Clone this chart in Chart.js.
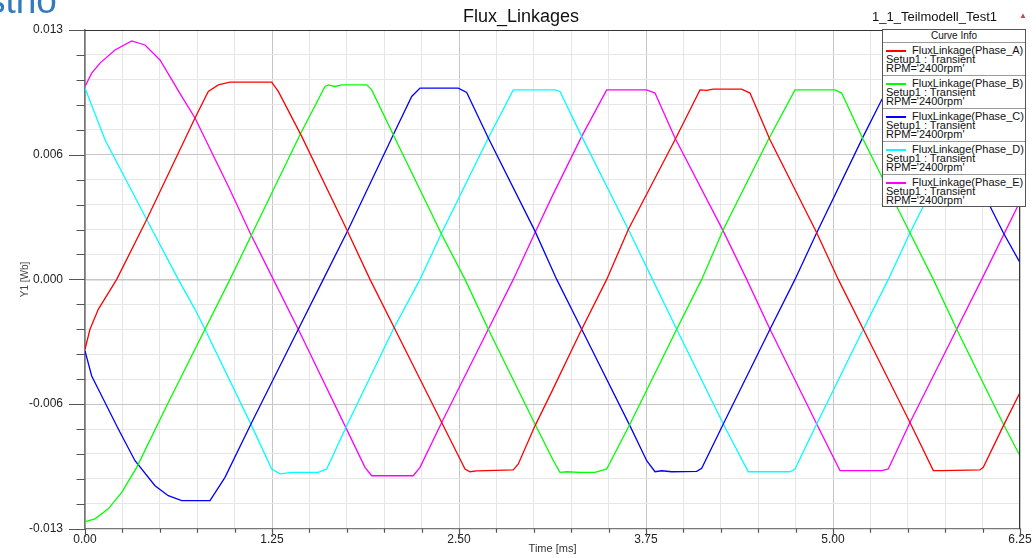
<!DOCTYPE html>
<html>
<head>
<meta charset="utf-8">
<script src="https://cdn.jsdelivr.net/npm/chart.js@4.4.1/dist/chart.umd.min.js"></script>
<style>
  html, body { margin: 0; padding: 0; background: #fff; }
  #wrap { position: relative; width: 1036px; height: 558px; overflow: hidden; font-family: "Liberation Sans", Arial, sans-serif; }
  #c { position: absolute; left: 0; top: 0; }
  .txt { position: absolute; white-space: nowrap; }
  #logo { left: -13px; top: -18px; font-size: 37px; line-height: 37px; color: #3478bd; }
  #title { left: 421px; width: 200px; text-align: center; top: 6px; font-size: 18px; line-height: 20px; color: #111; }
  #design { left: 872px; top: 9px; font-size: 13px; line-height: 15px; color: #111; }
  #icon { left: 1019px; top: 11px; font-size: 8px; line-height: 9px; color: #c0504d; }
  #legend { position: absolute; left: 882px; top: 29px; width: 142px; height: 176px; background: #fff; border: 1px solid #555; }
  #legend .hdr { height: 12px; border-bottom: 1px solid #9a9a9a; font-size: 10px; line-height: 12px; text-align: center; color: #111; }
  #legend .ent { position: relative; height: 32px; border-bottom: 1px solid #9a9a9a; font-size: 11px; line-height: 9px; color: #111; }
  #legend .ent:last-child { border-bottom: none; }
  #legend .sw { position: absolute; left: 3px; top: 7px; width: 20px; height: 2px; }
  #legend .l1 { position: absolute; left: 29px; top: 3px; }
  #legend .l2 { position: absolute; left: 3px; top: 12px; }
  #legend .l3 { position: absolute; left: 3px; top: 21px; }
</style>
</head>
<body>
<div id="wrap">
  <canvas id="c" width="1036" height="558"></canvas>
  <div class="txt" id="logo">stho</div>
  <div class="txt" id="title">Flux_Linkages</div>
  <div class="txt" id="design">1_1_Teilmodell_Test1</div>
  <div class="txt" id="icon">&#9650;</div>
  <div id="legend"></div>
</div>
<script>
// ---- data (time in ms, flux linkage in Wb) ----
const seriesNames = ["FluxLinkage(Phase_A)", "FluxLinkage(Phase_B)", "FluxLinkage(Phase_C)", "FluxLinkage(Phase_D)", "FluxLinkage(Phase_E)"];
const seriesColors = ["#ff0000", "#00ff00", "#0000ff", "#00ffff", "#ff00ff"];
const legendSetup = "Setup1 : Transient";
const legendRpm = "RPM='2400rpm'";

const tA = [0, 0.0334, 0.0889, 0.2119, 0.4124, 0.7353, 0.8242, 0.8910, 0.9693, 1.2480, 1.2921, 1.4485, 1.7493, 1.9051, 2.0722, 2.3844, 2.5401, 2.5735, 2.6183, 2.8630, 2.8964, 3.0080, 3.1217, 3.3202, 3.4873, 3.6317, 3.9439, 4.1110, 4.1558, 4.1979, 4.3898, 4.4452, 4.5789, 4.8911, 5.0354, 5.2025, 5.5147, 5.6704, 5.7266, 5.9826, 6.0047, 6.1384, 6.25];
const fluxA = [-0.0035, -0.0025, -0.0015, 0, 0.003, 0.00809, 0.00942, 0.00975, 0.00989, 0.00989, 0.00942, 0.00717, 0.0025, 0, -0.0025, -0.00717, -0.0095, -0.00964, -0.0096, -0.00955, -0.00925, -0.00734, -0.0056, -0.0025, 0, 0.0025, 0.007, 0.0095, 0.00947, 0.00954, 0.00954, 0.00934, 0.007, 0.00234, 0, -0.0025, -0.00717, -0.00958, -0.00958, -0.00955, -0.00942, -0.00734, -0.00567];

const tB = [0, 0.0668, 0.1557, 0.2453, 0.3456, 0.5568, 0.8021, 0.9693, 1.1143, 1.4372, 1.6043, 1.6264, 1.6711, 1.7159, 1.8830, 1.9164, 2.0608, 2.3844, 2.5401, 2.6959, 3.0080, 3.1283, 3.1751, 3.2199, 3.3088, 3.4091, 3.4873, 3.6431, 3.9552, 4.1223, 4.2667, 4.5675, 4.7460, 5.0134, 5.0582, 5.2025, 5.5033, 5.6704, 5.8269, 6.1384, 6.25];
const fluxB = [-0.01214, -0.012, -0.0115, -0.01067, -0.00942, -0.00617, -0.0025, 0, 0.00225, 0.00725, 0.00967, 0.00975, 0.00967, 0.00975, 0.00975, 0.0095, 0.00725, 0.00225, 0, -0.0025, -0.00725, -0.00905, -0.00967, -0.00964, -0.00967, -0.00967, -0.0095, -0.00725, -0.0025, 0, 0.0025, 0.007, 0.0095, 0.0095, 0.00934, 0.007, 0.0025, 0, -0.0025, -0.00725, -0.00884];

const tC = [0, 0.0448, 0.1337, 0.2226, 0.3342, 0.4679, 0.5568, 0.6464, 0.8356, 0.9358, 1.1143, 1.4258, 1.5929, 1.7600, 2.0608, 2.1838, 2.2393, 2.4953, 2.5515, 2.6959, 3.0080, 3.1531, 3.3202, 3.6430, 3.7547, 3.8102, 3.8550, 3.9218, 4.0889, 4.1223, 4.2667, 4.5789, 4.7460, 4.8911, 5.2025, 5.3256, 5.3677, 5.6350, 5.6751, 6.0495, 6.1384, 6.25];
const fluxC = [-0.00359, -0.00484, -0.00617, -0.0075, -0.00909, -0.01034, -0.01084, -0.01109, -0.01109, -0.00992, -0.00717, -0.0025, 0, 0.0025, 0.00725, 0.00917, 0.00959, 0.00959, 0.00937, 0.00709, 0.00242, 0, -0.0025, -0.00734, -0.00909, -0.00964, -0.00959, -0.00964, -0.00962, -0.00947, -0.00725, -0.0025, 0, 0.00234, 0.00717, 0.009, 0.0095, 0.00953, 0.0093, 0.00367, 0.00234, 0.00084];

const tD = [0, 0.1337, 0.4124, 0.6237, 0.7353, 0.8021, 1.1143, 1.2480, 1.3035, 1.3817, 1.5595, 1.6156, 1.7493, 2.0608, 2.2393, 2.3844, 2.6959, 2.8630, 3.1417, 3.1751, 3.3202, 3.6430, 3.7934, 3.9552, 4.2667, 4.4338, 4.7126, 4.7460, 4.8911, 5.2025, 5.3697, 5.5147, 5.6036, 5.9492, 5.9960, 6.25];
const fluxD = [0.00959, 0.007, 0.003, 0, -0.0015, -0.0025, -0.00734, -0.0095, -0.00975, -0.00967, -0.00967, -0.0095, -0.00734, -0.0025, 0, 0.00234, 0.00709, 0.0095, 0.0095, 0.00942, 0.00717, 0.00234, 0, -0.0025, -0.00725, -0.00964, -0.00964, -0.0095, -0.00725, -0.0025, 0, 0.00234, 0.00367, 0.00925, 0.0095, 0.0095];

const tE = [0, 0.0448, 0.1003, 0.2005, 0.3122, 0.4011, 0.5013, 0.6464, 0.7353, 0.9579, 1.1029, 1.2587, 1.4258, 1.7380, 1.8717, 1.9164, 2.1945, 2.2393, 2.3844, 2.6959, 2.8630, 3.0080, 3.1217, 3.3202, 3.4873, 3.7547, 3.8102, 3.9439, 4.2667, 4.4231, 4.5789, 4.8911, 5.0468, 5.1023, 5.3256, 5.3697, 5.5147, 5.8269, 5.9940, 6.25];
const fluxE = [0.00967, 0.01034, 0.01084, 0.0115, 0.01195, 0.01175, 0.011, 0.00917, 0.00809, 0.00467, 0.00234, 0, -0.0025, -0.00734, -0.00942, -0.00984, -0.00984, -0.00942, -0.00717, -0.0025, 0, 0.00234, 0.00415, 0.00717, 0.0095, 0.0095, 0.00934, 0.00709, 0.00242, 0, -0.0025, -0.00725, -0.00958, -0.00958, -0.00958, -0.0095, -0.00717, -0.0025, 0, 0.0039];

const xTickLabels = ["0.00", "1.25", "2.50", "3.75", "5.00", "6.25"];
const yTickLabels = ["-0.013", "-0.006", "0.000", "0.006", "0.013"];
const xMin = 0, xMax = 6.25, xStep = 0.25;
const yMin = -0.0125, yMax = 0.0125, yStep = 0.00125;

const times = [tA, tB, tC, tD, tE];
const fluxes = [fluxA, fluxB, fluxC, fluxD, fluxE];

// ---- legend (HTML) ----
const leg = document.getElementById('legend');
let html = '<div class="hdr">Curve Info</div>';
seriesNames.forEach((n, i) => {
  html += '<div class="ent"><div class="sw" style="background:' + seriesColors[i] + '"></div>' +
          '<div class="l1">' + n + '</div><div class="l2">' + legendSetup + '</div><div class="l3">' + legendRpm + '</div></div>';
});
leg.innerHTML = html;

// ---- chart ----
const datasets = seriesNames.map((n, i) => ({
  label: n,
  data: times[i].map((t, k) => ({ x: t, y: fluxes[i][k] })),
  borderColor: seriesColors[i],
  backgroundColor: seriesColors[i],
  borderWidth: 1.3,
  pointRadius: 0,
  tension: 0,
  fill: false
}));

const tickMarks = {
  id: 'tickMarks',
  afterDraw(chart) {
    const ctx = chart.ctx;
    const xs = chart.scales.x, ys = chart.scales.y;
    const a = chart.chartArea;
    ctx.save();
    ctx.strokeStyle = '#333';
    ctx.lineWidth = 1;
    ctx.beginPath();
    ctx.moveTo(a.left, a.top + 0.5); ctx.lineTo(a.right, a.top + 0.5);
    ctx.moveTo(a.right - 0.5, a.top); ctx.lineTo(a.right - 0.5, a.bottom);
    ctx.stroke();
    ctx.strokeStyle = '#555';
    ctx.lineWidth = 1.2;
    ctx.beginPath();
    ys.ticks.forEach((t, i) => {
      const p = Math.round(ys.getPixelForTick(i)) + 0.5;
      const len = (i % 5 === 0) ? 16 : 8.5;
      ctx.moveTo(a.left - len, p); ctx.lineTo(a.left, p);
    });
    xs.ticks.forEach((t, i) => {
      const p = Math.round(xs.getPixelForTick(i)) + 0.5;
      const len = (i % 5 === 0) ? 8 : 4;
      ctx.moveTo(p, a.bottom); ctx.lineTo(p, a.bottom + len);
    });
    ctx.stroke();
    ctx.restore();
  }
};

new Chart(document.getElementById('c'), {
  type: 'line',
  data: { datasets },
  plugins: [tickMarks],
  options: {
    responsive: false,
    animation: false,
    devicePixelRatio: 1,
    layout: { padding: { top: 30, right: 16, left: 0, bottom: 0 } },
    plugins: { legend: { display: false }, tooltip: { enabled: false }, title: { display: false } },
    scales: {
      x: {
        type: 'linear', min: xMin, max: xMax,
        afterFit: s => { s.height = 28; },
        ticks: {
          stepSize: xStep, autoSkip: false, maxRotation: 0, padding: 4,
          font: { family: '"Liberation Sans", Arial, sans-serif', size: 12 }, color: '#222',
          callback: (v, i) => (i % 5 === 0 ? xTickLabels[i / 5] : '')
        },
        grid: {
          drawTicks: false,
          color: c => (c.index % 5 === 0 ? '#c6c6c6' : '#e6e6e6'),
          lineWidth: 1
        },
        border: { color: '#777', width: 1.3 },
        title: { display: true, text: 'Time [ms]', color: '#333', padding: { top: 0, bottom: 1 },
          font: { family: '"Liberation Sans", Arial, sans-serif', size: 11 } }
      },
      y: {
        type: 'linear', min: yMin, max: yMax,
        afterFit: s => { s.width = 85; },
        ticks: {
          stepSize: yStep, autoSkip: false, padding: 22,
          font: { family: '"Liberation Sans", Arial, sans-serif', size: 12 }, color: '#222',
          callback: (v, i) => (i % 5 === 0 ? yTickLabels[i / 5] : '')
        },
        grid: {
          drawTicks: false,
          color: c => (c.index % 5 === 0 ? '#c6c6c6' : '#e6e6e6'),
          lineWidth: c => (c.index === 10 ? 1.6 : 1)
        },
        border: { color: '#777', width: 1.6 },
        title: { display: true, text: 'Y1 [Wb]', color: '#444', padding: { top: 19, bottom: 0 },
          font: { family: '"Liberation Sans", Arial, sans-serif', size: 10 } }
      }
    }
  }
});
</script>
</body>
</html>
